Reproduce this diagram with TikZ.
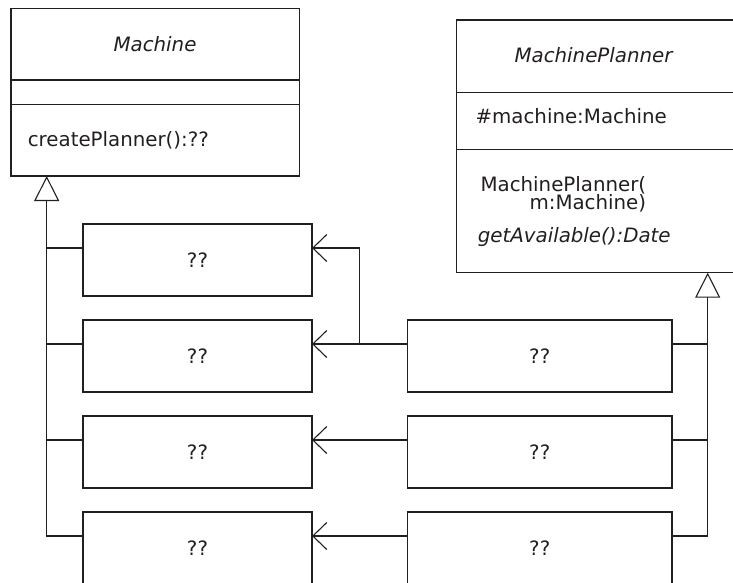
\documentclass[tikz,border=0pt]{standalone}
\usepackage{fontspec}
\setmainfont{DejaVu Sans}
\usetikzlibrary{positioning,arrows.meta}
\definecolor{umlink}{HTML}{231F20}
\newcommand\umlfont{\fontsize{19.8}{22}\selectfont}

\begin{document}
\begin{tikzpicture}[x=1pt, y=-1pt, line width=1.1pt, color=umlink,
    classbox/.style={draw, inner sep=0pt, outer sep=0pt, anchor=north west},
    implbox/.style={draw, font=\umlfont, inner sep=0pt, outer sep=0pt, minimum width=229pt, minimum height=72pt},
    plannerbox/.style={implbox, minimum width=264.5pt},
    member/.style={font=\umlfont, inner sep=0pt, anchor=base west},
    classname/.style={font=\umlfont\itshape, inner sep=0pt, anchor=base},
    inherits/.style={-{Triangle[open, length=25pt, width=25pt]}},
    uses/.style={-{Straight Barb[length=14pt, width=27pt]}}]
        \useasboundingbox (0,0) rectangle (733,582);
        \clip (0,0) rectangle (733,582);
        % Machine
        \node[classbox, minimum width=288.3pt, minimum height=167.7pt] (machine) at (11,8.3) {};
        \draw ([yshift=-71.7pt]machine.north west) -- ([yshift=-71.7pt]machine.north east);
        \draw ([yshift=-96pt]machine.north west) -- ([yshift=-96pt]machine.north east);
        \node[classname] (machinename) at (155,51.7) {Machine};
        \node[member] (createplanner) at (27.3,146.7) {createPlanner():??};
        % MachinePlanner
        \node[classbox, minimum width=280pt, minimum height=252.7pt] (planner) at (456.7,20) {};
        \draw ([yshift=-72.3pt]planner.north west) -- ([yshift=-72.3pt]planner.north east);
        \draw ([yshift=-129.7pt]planner.north west) -- ([yshift=-129.7pt]planner.north east);
        \node[classname] (plannername) at (593.5,62.7) {MachinePlanner};
        \node[member] (machinefield) at (475,123.3) {\#machine:Machine};
        \node[member] (ctor) at (480,191) {MachinePlanner(};
        \node[member] (ctorarg) at (529,209.3) {m:Machine)};
        \node[member, font=\umlfont\itshape] (getavailable) at (477.3,242.7) {getAvailable():Date};
        % Machine subclasses
        \node[implbox, anchor=north west] (m1) at (83,224) {??};
        \node[implbox, below=24pt of m1] (m2) {??};
        \node[implbox, below=24pt of m2] (m3) {??};
        \node[implbox, below=24pt of m3] (m4) {??};
        % MachinePlanner subclasses
        \node[plannerbox, right=95.5pt of m2] (p2) {??};
        \node[plannerbox, right=95.5pt of m3] (p3) {??};
        \node[plannerbox, right=95.5pt of m4] (p4) {??};
        % generalization
        \coordinate (machinetip) at ([xshift=35.7pt]machine.south west);
        \coordinate (plannertip) at ([xshift=251pt]planner.south west);
        \draw[inherits] ([yshift=12pt]m4.west) -| (machinetip);
        \draw ([yshift=12pt]m1.west) -- ([yshift=12pt]m1.west -| machinetip);
        \draw ([yshift=12pt]m2.west) -- ([yshift=12pt]m2.west -| machinetip);
        \draw ([yshift=12pt]m3.west) -- ([yshift=12pt]m3.west -| machinetip);
        \draw[inherits] ([yshift=12pt]p4.east) -| (plannertip);
        \draw ([yshift=12pt]p2.east) -- ([yshift=12pt]p2.east -| plannertip);
        \draw ([yshift=12pt]p3.east) -- ([yshift=12pt]p3.east -| plannertip);
        % associations
        \coordinate (branch) at ([xshift=47.3pt, yshift=12pt]m2.east);
        \draw[uses] ([yshift=12pt]p2.west) -- ([yshift=12pt]m2.east);
        \draw[uses] (branch) |- ([yshift=12pt]m1.east);
        \draw[uses] ([yshift=12pt]p3.west) -- ([yshift=12pt]m3.east);
        \draw[uses] ([yshift=12pt]p4.west) -- ([yshift=12pt]m4.east);
    \end{tikzpicture}
\end{document}
